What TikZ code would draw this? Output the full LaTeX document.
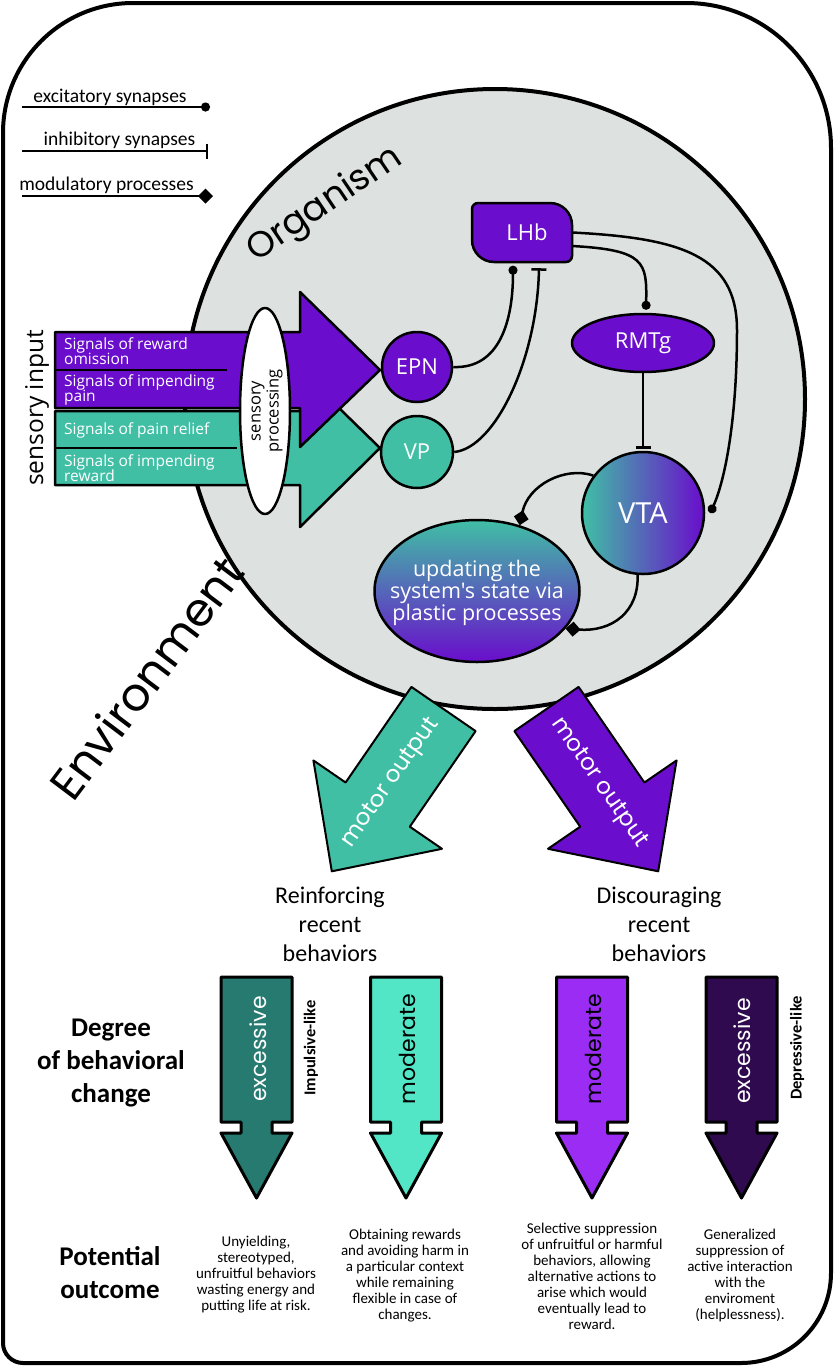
\documentclass[tikz,border=0pt]{standalone}
\usepackage{fontspec}
\setmainfont{Carlito}
\newfontfamily\osans{Open Sans}
\newfontfamily\pop{Poppins}
\usetikzlibrary{arrows.meta,shapes.geometric}
\definecolor{pur}{HTML}{6A0DCC}
\definecolor{tea}{HTML}{40BFA5}
\definecolor{gry}{HTML}{DDE2E0}
\definecolor{dteal}{HTML}{267A70}
\definecolor{lteal}{HTML}{52E5C6}
\definecolor{bpur}{HTML}{9A2CF4}
\definecolor{dpur}{HTML}{2F0A4F}
\begin{document}
\begin{tikzpicture}[x=1pt,y=-1pt,line join=round,
  exc/.style={line width=2.5pt,-{Circle[length=9pt]}},
  inh/.style={line width=2.5pt,-{Bar[width=15pt,line width=2.5pt]}},
  modu/.style={line width=2.5pt,-{Turned Square[length=15pt,width=15pt]}},
  brain/.style={draw,line width=2.5pt,text=white,inner sep=0pt,font=\osans\fontsize{22}{24}\selectfont},
  sig/.style={anchor=west,align=left,text=white,inner sep=0pt,font=\osans\fontsize{15.5}{15.5}\selectfont},
  sarrow/.style={draw,line width=2.5pt},
  barrow/.style={draw,line width=3pt},
  legtxt/.style={anchor=base,inner sep=0pt,font=\fontsize{19.5}{21}\selectfont},
  outtxt/.style={align=center,inner sep=0pt,font=\fontsize{15}{16}\selectfont},
  bold/.style={align=center,inner sep=0pt,font=\bfseries\fontsize{27}{33}\selectfont},
  rtxt/.style={align=center,inner sep=0pt,font=\fontsize{24}{29}\selectfont},
  degtxt/.style={rotate=90,inner sep=0pt,font=\pop\fontsize{22}{22}\selectfont}]
\useasboundingbox (0,0) rectangle (834,1366);
% frame
\draw[line width=4pt] (3,133) .. controls (3,61.2) and (61.2,3) .. (133,3)
  -- (686,3) .. controls (766.1,3) and (831,67.9) .. (831,148)
  -- (831,1273) .. controls (831,1322.7) and (790.7,1363) .. (741,1363)
  -- (23,1363) .. controls (12,1363) and (3,1354) .. (3,1343) -- cycle;
% legend
\coordinate (l1a) at (22,107); \coordinate (l1b) at (210,107);
\coordinate (l2a) at (22,151); \coordinate (l2b) at (208,151);
\coordinate (l3a) at (22,196); \coordinate (l3b) at (213,196);
\draw[exc] (l1a) -- (l1b);
\draw[inh] (l2a) -- (l2b);
\draw[modu] (l3a) -- (l3b);
\node[legtxt] (t1) at (110,102) {excitatory synapses};
\node[legtxt] (t2) at (119.5,145) {inhibitory synapses};
\node[legtxt] (t3) at (106.5,190) {modulatory processes};
% organism
\node[circle,draw,line width=4pt,fill=gry,minimum size=620pt,inner sep=0pt] (org) at (495,399) {};
\node[rotate=34,font=\pop\fontsize{36}{40}\selectfont] (orgt) at (325,205) {Organism};
% sensory arrows
\draw[sarrow,fill=tea] (55,411) -- (300,411) -- (300,370) -- (380,448) -- (300,527) -- (300,485) -- (55,485) -- cycle;
\draw[sarrow,fill=pur] (55,332) -- (300,332) -- (300,292) -- (380,370) -- (300,447) -- (300,408) -- (55,408) -- cycle;
\draw[line width=2.5pt] (55,370) -- (227,370);
\draw[line width=2.5pt] (55,448) -- (237,448);
\node[sig] (s1) at (64,351) {Signals of reward\\omission};
\node[sig] (s2) at (64,390) {Signals of impending\\pain};
\node[sig] (s3) at (64,430) {Signals of pain relief};
\node[sig] (s4) at (64,468) {Signals of impending\\reward};
\node[ellipse,draw,line width=2.5pt,fill=white,minimum width=50pt,minimum height=206pt,inner sep=0pt] (sp) at (265,411) {};
\node[rotate=90,align=center,inner sep=0pt,font=\osans\fontsize{16.5}{18}\selectfont] (spt) at (267,411) {sensory\\processing};
\node[rotate=90,inner sep=0pt,font=\osans\fontsize{24.5}{26}\selectfont] (sin) at (37,408) {sensory input};
% LHb
\draw[line width=2.5pt,fill=pur] (478,203) -- (550,203) .. controls (562.15,203) and (572,212.85) .. (572,225)
  -- (572,256) .. controls (572,259.3) and (569.3,262) .. (566,262)
  -- (494,262) .. controls (481.85,262) and (472,252.15) .. (472,240)
  -- (472,209) .. controls (472,205.7) and (474.7,203) .. (478,203) -- cycle;
\node[text=white,inner sep=0pt,minimum width=100pt,minimum height=59pt,font=\osans\fontsize{22}{24}\selectfont] (LHb) at (522,232.5) {\hspace*{10pt}LHb};
\node[brain,circle,fill=pur,minimum size=70pt] (EPN) at (417,367) {EPN};
\node[brain,circle,fill=tea,minimum size=72pt] (VP) at (417,452) {VP};
\node[brain,ellipse,fill=pur,minimum width=142pt,minimum height=58pt] (RMTg) at (643,343) {RMTg};
\node[brain,circle,left color=tea,right color=pur,minimum size=122pt,font=\osans\fontsize{29}{30}\selectfont] (VTA) at (643,513) {VTA};
\node[brain,ellipse,top color=tea,bottom color=pur,minimum width=205pt,minimum height=142pt] (upd) at (477,591) {};
\node[align=center,text=white,inner sep=0pt,font=\osans\fontsize{21.5}{21.7}\selectfont] (updt) at (477,593) {updating the\\system's state via\\plastic processes};
% connectors
\draw[exc] (EPN.east) .. controls (500,369) and (513,320) .. ([xshift=-9pt,yshift=-3.5pt]LHb.south);
\draw[inh] (VP.east) .. controls (495,448) and (537,360) .. ([xshift=17pt,yshift=-6pt]LHb.south);
\draw[exc] ([yshift=-13.5pt]LHb.east) .. controls (645,250) and (647,262) .. ([xshift=3pt,yshift=3pt]RMTg.north);
\draw[exc] (LHb.east) .. controls (680,238) and (737,255) .. (737,330) .. controls (737,420) and (725,480) .. ([xshift=5pt]VTA.east);
\draw[inh] (RMTg.south) -- ([yshift=2pt]VTA.north);
\draw[modu] (VTA.143) .. controls (565,466) and (528,485) .. (upd.57);
\draw[modu] (VTA.265) .. controls (639,612) and (612,632) .. (upd.-23);
% motor output
\draw[sarrow,line width=2pt,fill=tea] (475.6,731.1) -- (411.4,686.9) -- (345.6,782.5) -- (313.4,760.4) -- (331.8,871.3) -- (442,848.8) -- (409.8,826.7) -- cycle;
\draw[sarrow,line width=2pt,fill=pur] (514.4,731.1) -- (578.6,686.9) -- (644.4,782.5) -- (676.6,760.4) -- (658.2,871.3) -- (548,848.8) -- (580.2,826.7) -- cycle;
\node[rotate=55,text=white,inner sep=0pt,font=\pop\fontsize{23}{25}\selectfont] (mo1) at (391,783) {motor output};
\node[rotate=-55,text=white,inner sep=0pt,font=\pop\fontsize{23}{25}\selectfont] (mo2) at (599,783) {motor output};
\node[rotate=53,inner sep=0pt,font=\pop\fontsize{46}{50}\selectfont] (env) at (146,678) {Environment};
\node[rtxt] (rein) at (330,924) {Reinforcing\\recent\\behaviors};
\node[rtxt] (disc) at (659,924) {Discouraging\\recent\\behaviors};
% behaviour arrows
\foreach \cx/\col in {256.5/dteal,406/lteal,592/bpur,741.5/dpur}{
  \begin{scope}[xshift=\cx pt]
  \draw[barrow,fill=\col] (-35.5,977) -- (35.5,977) -- (35.5,1122) -- (15.5,1122) -- (15.5,1133) -- (35.5,1133) -- (0,1198) -- (-35.5,1133) -- (-15.5,1133) -- (-15.5,1122) -- (-35.5,1122) -- cycle;
  \end{scope}}
\node[degtxt,text=white] (d1) at (258,1049) {excessive};
\node[degtxt] (d2) at (407,1049) {moderate};
\node[degtxt] (d3) at (593,1049) {moderate};
\node[degtxt,text=white] (d4) at (742,1051) {excessive};
\node[rotate=90,inner sep=0pt,font=\bfseries\fontsize{16.5}{17}\selectfont] (imp) at (311,1048) {Impulsive-like};
\node[rotate=90,inner sep=0pt,font=\bfseries\fontsize{16.5}{17}\selectfont] (dep) at (797,1048) {Depressive-like};
\node[bold] (deg) at (111,1063) {Degree\\of behavioral\\change};
\node[bold] (pot) at (110,1273) {Potential\\outcome};
\node[outtxt] (o1) at (256,1275) {Unyielding,\\stereotyped,\\unfruitful behaviors\\wasting energy and\\putting life at risk.};
\node[outtxt] (o2) at (405,1276) {Obtaining rewards\\and avoiding harm in\\a particular context\\while remaining\\flexible in case of\\changes.};
\node[outtxt] (o3) at (592,1276) {Selective suppression\\of unfruitful or harmful\\behaviors, allowing\\alternative actions to\\arise which would\\eventually lead to\\reward.};
\node[outtxt] (o4) at (740,1275) {Generalized\\suppression of\\active interaction\\with the\\enviroment\\(helplessness).};
\end{tikzpicture}
\end{document}
